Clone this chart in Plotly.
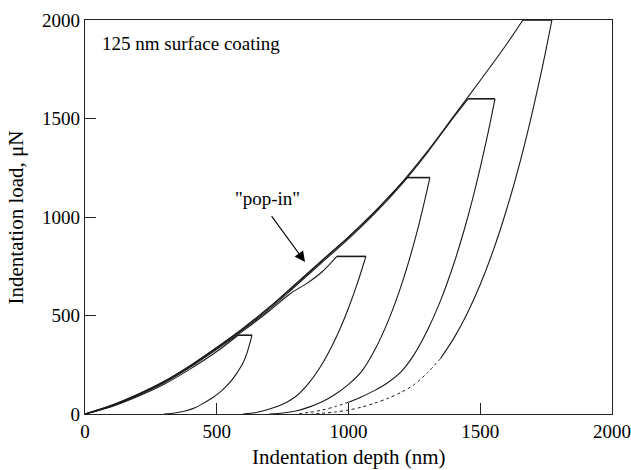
import plotly.graph_objects as go

# ---- data ----
load400_h = [0, 100, 200, 300, 400, 500, 581]
load400_p = [0, 37, 89, 151, 229, 317, 400]
hold400_h = [581, 634]
unload400_h = [634, 615, 600, 575, 550, 520, 487, 450, 420, 380, 340, 300]
unload400_p = [400, 310, 260, 205, 160, 120, 85, 55, 33, 15, 5, 0]

load800_h = [0, 100, 200, 300, 400, 500, 600, 700, 780, 842, 900, 956]
load800_p = [0, 40, 94, 158, 238, 328, 422, 524, 612, 663, 722, 800]
hold800_h = [956, 1066]
unload800_h = [1066, 1050, 1030, 1000, 970, 940, 900, 850, 800, 750, 700, 650, 600]
unload800_p = [800, 731, 649, 538, 439, 353, 254, 158, 89, 50, 25, 8, 0]

load1200_h = [0, 100, 200, 300, 400, 500, 600, 700, 800, 900, 1000, 1100, 1200, 1222]
load1200_p = [0, 43, 98, 164, 245, 337, 433, 540, 658, 778, 897, 1026, 1170, 1200]
hold1200_h = [1222, 1309]
unload1200_h = [1309, 1290, 1270, 1250, 1220, 1190, 1150, 1100, 1050, 1000, 950, 900, 850, 800, 750, 700]
unload1200_p = [1200, 1088, 977, 875, 735, 612, 470, 326, 216, 150, 100, 62, 35, 15, 5, 0]

load1600_h = [0, 100, 200, 300, 400, 500, 600, 700, 800, 900, 1000, 1100, 1200, 1300, 1400, 1454]
load1600_p = [0, 41, 96, 161, 241, 332, 428, 532, 651, 770, 889, 1018, 1163, 1328, 1508, 1600]
hold1600_h = [1454, 1556]
unload1600_h = [1556, 1530, 1500, 1470, 1440, 1400, 1350, 1300, 1250, 1200, 1150, 1100, 1050, 1000]
unload1600_p = [1600, 1430, 1251, 1087, 939, 764, 578, 426, 304, 215, 160, 120, 88, 60]
tail1600_h = [1000, 950, 900, 850, 800]
tail1600_p = [60, 38, 20, 8, 0]

load2000_h = [0, 100, 200, 300, 400, 500, 600, 700, 800, 900, 1000, 1100, 1200, 1300, 1400, 1500, 1600, 1662]
load2000_p = [0, 44, 100, 166, 247, 338, 436, 543, 662, 781, 899, 1028, 1171, 1334, 1513, 1693, 1877, 2000]
hold2000_h = [1662, 1772]
unload2000_h = [1772, 1750, 1720, 1690, 1650, 1600, 1550, 1500, 1450, 1400, 1350]
unload2000_p = [2000, 1852, 1664, 1488, 1274, 1038, 833, 657, 509, 385, 283]
tail2000_h = [1350, 1300, 1250, 1200, 1150, 1100, 1050, 1000, 950, 900, 860]
tail2000_p = [283, 210, 150, 110, 80, 55, 35, 20, 10, 4, 0]

x_ticks = [0, 500, 1000, 1500, 2000]
y_ticks = [0, 500, 1000, 1500, 2000]

LC = "#1a1a1a"
fig = go.Figure()

def add(h, p, dash="solid", shape="spline", width=1.1):
    fig.add_trace(go.Scatter(x=h, y=p, mode="lines",
                             line=dict(color=LC, width=width, dash=dash, shape=shape, smoothing=0.8),
                             showlegend=False, hoverinfo="skip"))

for lh, lp, hh, pmax, uh, up in [
    (load400_h, load400_p, hold400_h, 400, unload400_h, unload400_p),
    (load800_h, load800_p, hold800_h, 800, unload800_h, unload800_p),
    (load1200_h, load1200_p, hold1200_h, 1200, unload1200_h, unload1200_p),
    (load1600_h, load1600_p, hold1600_h, 1600, unload1600_h, unload1600_p),
    (load2000_h, load2000_p, hold2000_h, 2000, unload2000_h, unload2000_p),
]:
    add(lh, lp)
    add(hh, [pmax, pmax], shape="linear", width=1.6)
    add(uh, up)

add(tail1600_h, tail1600_p, dash="dot", width=1)
add(tail2000_h, tail2000_p, dash="dot", width=1)

FONT = "Liberation Serif, Times New Roman, serif"

fig.add_annotation(x=694, y=1096, xref="x", yref="y", text='"pop-in"',
                   showarrow=False, font=dict(family=FONT, size=19, color="black"))
fig.add_annotation(x=835, y=772, xref="x", yref="y", ax=704, ay=1012, axref="x", ayref="y",
                   text="", showarrow=True, arrowhead=2, arrowsize=1.9, arrowwidth=1.1,
                   arrowcolor="black")
fig.add_annotation(x=0.0285, y=0.9416, xref="paper", yref="paper", xanchor="left", yanchor="middle",
                   text="125 nm surface coating", showarrow=False,
                   font=dict(family=FONT, size=19, color="black"))
fig.add_annotation(x=0.5, y=-0.109, xref="paper", yref="paper", xanchor="center", yanchor="middle",
                   text="Indentation depth (nm)", showarrow=False,
                   font=dict(family=FONT, size=21, color="black"))
fig.add_annotation(x=-0.13, y=0.5, xref="paper", yref="paper", xanchor="center", yanchor="middle",
                   text="Indentation load, μN", textangle=-90, showarrow=False,
                   font=dict(family=FONT, size=21, color="black"))

axis_common = dict(showgrid=False, zeroline=False, showline=True, linecolor="#222",
                   linewidth=1.3, mirror=True, ticks="inside", ticklen=11, tickwidth=1.3,
                   tickcolor="#222", ticklabeloverflow="allow", automargin=False,
                   tickfont=dict(family=FONT, size=19, color="black"))
fig.update_xaxes(range=[0, 2000], tickvals=x_ticks, ticktext=[str(v) for v in x_ticks], **axis_common)
fig.update_yaxes(range=[0, 2000], tickvals=y_ticks, ticktext=[str(v) for v in y_ticks], **axis_common)

fig.update_layout(width=631, height=470, autosize=False, margin=dict(l=85, r=19, t=20, b=56, autoexpand=False),
                  plot_bgcolor="white", paper_bgcolor="white")
fig.write_html("out.html", config={"responsive": False})
